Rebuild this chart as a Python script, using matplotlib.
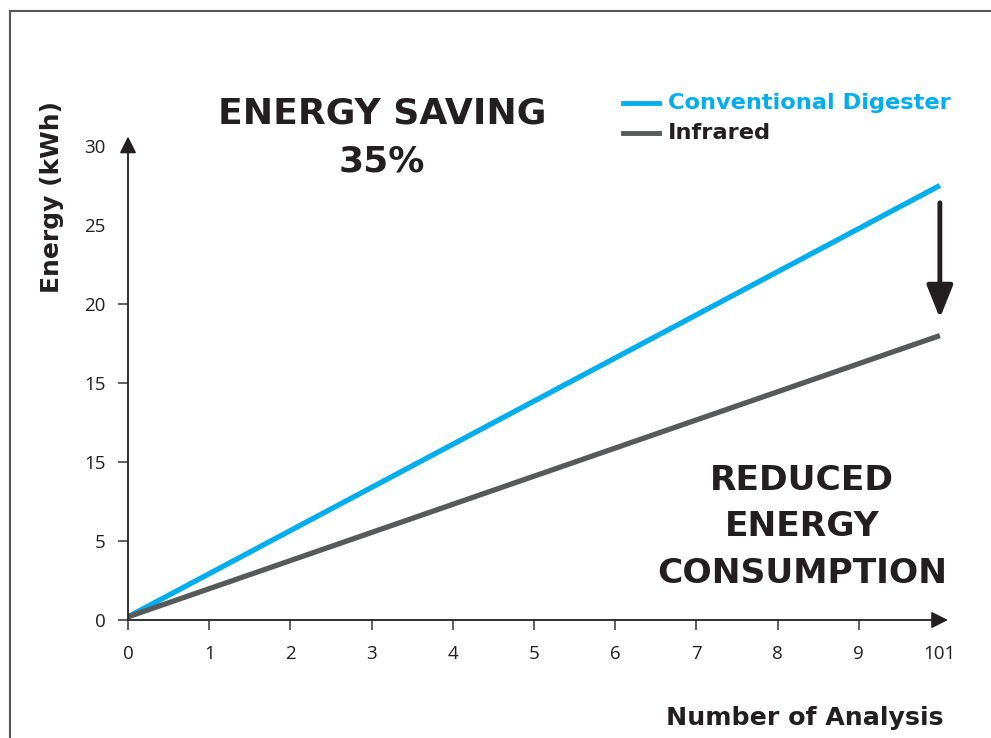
import matplotlib
matplotlib.use("Agg")
import matplotlib.pyplot as plt
from matplotlib.lines import Line2D

# data
analyses = [0, 10]
conventional = [0.2, 27.5]
infrared = [0.2, 18.0]

x_ticks = [0, 1, 2, 3, 4, 5, 6, 7, 8, 9, 10]
x_labels = ["0", "1", "2", "3", "4", "5", "6", "7", "8", "9", "101"]
y_ticks = [0, 5, 10, 15, 20, 25, 30]
y_labels = ["0", "5", "15", "15", "20", "25", "30"]

BLUE = "#00AEEF"
GRAY = "#58595B"
INK = "#231F20"

fig = plt.figure(figsize=(9.91, 7.38), dpi=100)
ax = fig.add_axes([128 / 991, 118 / 738, 820 / 991, 483.5 / 738])
ax.set_xlim(0, 10.1)
ax.set_ylim(0, 30.6)
for s in ax.spines.values():
    s.set_visible(False)

# the two series
ax.plot(analyses, conventional, color=BLUE, lw=3.8, solid_capstyle="butt", zorder=3)
ax.plot(analyses, infrared, color=GRAY, lw=3.8, solid_capstyle="butt", zorder=3)

# axes drawn as arrows
ax.annotate("", xy=(10.1, 0), xytext=(0, 0),
            arrowprops=dict(arrowstyle="-|>", color=INK, lw=1.3, mutation_scale=25,
                            shrinkA=0, shrinkB=0), annotation_clip=False)
ax.annotate("", xy=(0, 30.6), xytext=(0, 0),
            arrowprops=dict(arrowstyle="-|>", color=INK, lw=1.3, mutation_scale=25,
                            shrinkA=0, shrinkB=0), annotation_clip=False)

# ticks
tick_font = dict(family="Open Sans", size=13.5, color=INK)
ax.set_xticks(x_ticks)
ax.set_xticklabels(x_labels, **tick_font)
ax.set_yticks(y_ticks)
ax.set_yticklabels(y_labels, **tick_font)
ax.tick_params(axis="x", length=7, width=1.2, color="#444444", pad=11)
ax.tick_params(axis="y", length=7, width=1.2, color="#444444", pad=9)
ax.xaxis.get_major_ticks()[-1].tick1line.set_visible(False)
for t in ax.yaxis.get_major_ticks()[5:]:
    t.tick1line.set_visible(False)

# axis labels
fig.text(944 / 991, 1 - 718 / 738, "Number of Analysis", ha="right", va="center",
         fontsize=18.2, fontweight="bold", color=INK)
fig.text(52 / 991, 1 - 197 / 738, "Energy (kWh)", ha="center", va="center",
         rotation=90, fontsize=18, fontweight="bold", color=INK)

# legend
fig.add_artist(Line2D([623 / 991, 659 / 991], [1 - 103 / 738] * 2, color=BLUE, lw=3.5))
fig.add_artist(Line2D([623 / 991, 659 / 991], [1 - 133 / 738] * 2, color=GRAY, lw=3.5))
fig.text(668 / 991, 1 - 103 / 738, "Conventional Digester", ha="left", va="center",
         fontsize=16.2, fontweight="bold", color=BLUE)
fig.text(668 / 991, 1 - 133 / 738, "Infrared", ha="left", va="center",
         fontsize=16.2, fontweight="bold", color=INK)

# annotations
fig.text(382 / 991, 1 - 137.5 / 738, "ENERGY SAVING\n35%", ha="center", va="center",
         fontsize=26, fontweight="bold", color=INK, linespacing=1.52)
fig.text(802 / 991, 1 - 527 / 738, "REDUCED\nENERGY\nCONSUMPTION", ha="center",
         va="center", fontsize=24.8, fontweight="bold", color=INK, linespacing=1.53)
ax.annotate("", xy=(10, 19.1), xytext=(10, 26.4),
            arrowprops=dict(arrowstyle="-|>,head_width=0.36,head_length=0.9", color=INK,
                            lw=3.5, mutation_scale=22, shrinkA=0, shrinkB=0),
            annotation_clip=False)

# frame edges
fig.add_artist(Line2D([10 / 991, 1], [1 - 11 / 738] * 2, color="#555555", lw=1.5))
fig.add_artist(Line2D([10 / 991, 10 / 991], [0, 1 - 11 / 738], color="#555555", lw=1.5))

fig.savefig("out.png", dpi=100)
